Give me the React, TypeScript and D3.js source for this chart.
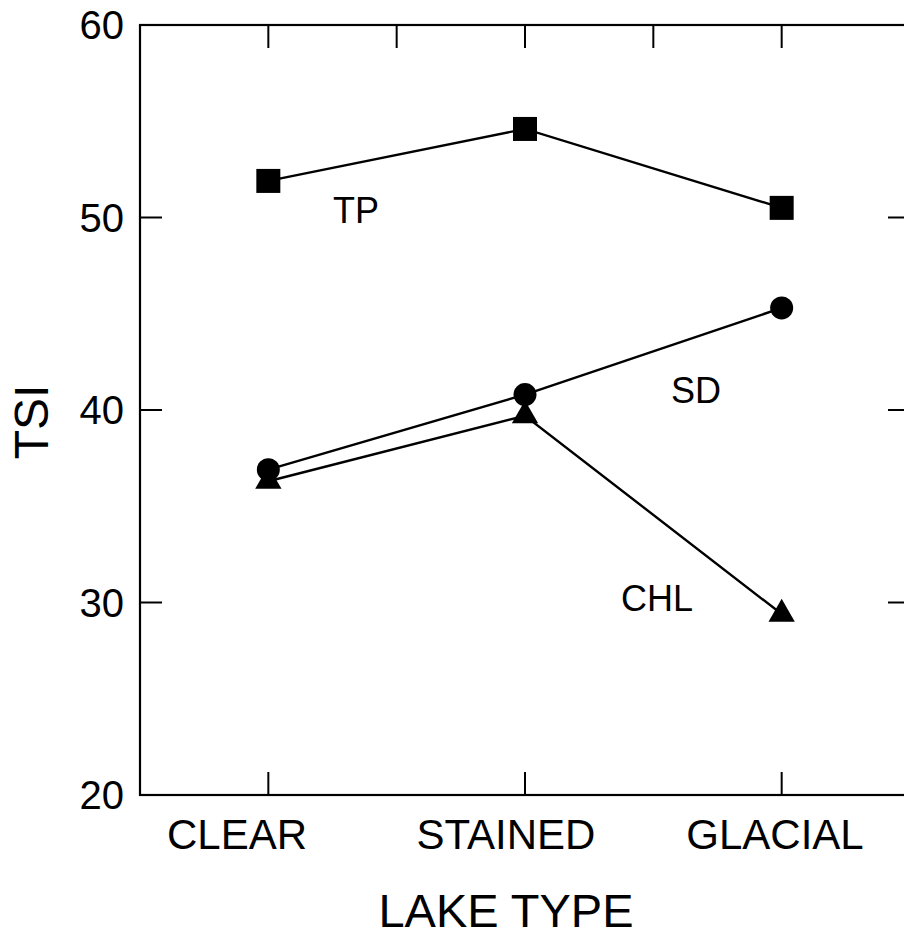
import React from "react";
import * as d3 from "d3";

// Lake types on the x axis
const lakeTypes = ["CLEAR", "STAINED", "GLACIAL"];

// TSI values
const tpValues = [51.9, 54.6, 50.5];
const sdValues = [36.9, 40.8, 45.3];
const chlValues = [36.3, 39.7, 29.4];

const yTicks = [20, 30, 40, 50, 60];

const W = 904;
const H = 936;
const left = 140;
const right = 910;
const top = 25;
const bottom = 795;
const font = "'Liberation Sans', Arial, Helvetica, sans-serif";

export default function App() {
	const x = d3.scalePoint<string>().domain(lakeTypes).range([left, right]).padding(0.5);
	const y = d3.scaleLinear().domain([20, 60]).range([bottom, top]);
	const step = x.step();
	// the category labels sit a little off their ticks in the original
	const labelX = d3.scalePoint<string>().domain(lakeTypes).range([237, 775]);

	const line = d3
		.line<number>()
		.x((d, i) => x(lakeTypes[i]) as number)
		.y(d => y(d));

	// top axis has ticks at each category and halfway between them
	const topTicks = d3.range(lakeTypes.length * 2 - 1).map(i => (x(lakeTypes[0]) as number) + (i * step) / 2);

	const inner = yTicks.filter(t => t !== 20 && t !== 60);

	const triangle = d3.symbol().type(d3.symbolTriangle).size(300)();

	return (
		<svg width={W} height={H} style={{ position: "absolute", left: 0, top: 0, background: "#fff" }}>
			{/* frame */}
			<rect x={left} y={top} width={right - left} height={bottom - top} fill="none" stroke="#000" strokeWidth={2.2} />

			{/* bottom ticks */}
			{lakeTypes.map(c => (
				<line key={"b" + c} x1={x(c)} x2={x(c)} y1={bottom} y2={bottom - 23} stroke="#000" strokeWidth={2} />
			))}
			{/* top ticks */}
			{topTicks.map((t, i) => (
				<line key={"t" + i} x1={t} x2={t} y1={top} y2={top + 23} stroke="#000" strokeWidth={2} />
			))}
			{/* left and right y ticks */}
			{inner.map(t => (
				<g key={"y" + t}>
					<line x1={left} x2={left + 22} y1={y(t)} y2={y(t)} stroke="#000" strokeWidth={2} />
					<line x1={right} x2={right - 22} y1={y(t)} y2={y(t)} stroke="#000" strokeWidth={2} />
				</g>
			))}

			{/* y tick labels */}
			{yTicks.map(t => (
				<text key={"yl" + t} x={124} y={y(t)} dy="0.36em" textAnchor="end" fontFamily={font} fontSize={40}>
					{t}
				</text>
			))}

			{/* category labels */}
			{lakeTypes.map(c => (
				<text key={"cl" + c} x={labelX(c)} y={849} textAnchor="middle" fontFamily={font} fontSize={42}>
					{c}
				</text>
			))}

			{/* axis titles */}
			<text x={506} y={927} textAnchor="middle" fontFamily={font} fontSize={47}>
				LAKE TYPE
			</text>
			<text transform="translate(48, 422) rotate(-90)" textAnchor="middle" fontFamily={font} fontSize={48}>
				TSI
			</text>

			{/* series lines */}
			{[tpValues, sdValues, chlValues].map((vals, i) => (
				<path key={"l" + i} d={line(vals) || ""} fill="none" stroke="#000" strokeWidth={2.4} />
			))}

			{/* TP squares */}
			{tpValues.map((v, i) => (
				<rect key={"s" + i} x={(x(lakeTypes[i]) as number) - 12} y={y(v) - 12} width={24} height={24} fill="#000" />
			))}
			{/* SD circles */}
			{sdValues.map((v, i) => (
				<circle key={"c" + i} cx={x(lakeTypes[i])} cy={y(v)} r={11.5} fill="#000" />
			))}
			{/* CHL triangles */}
			{chlValues.map((v, i) => (
				<path key={"tr" + i} d={triangle || ""} transform={`translate(${x(lakeTypes[i])}, ${y(v)})`} fill="#000" />
			))}

			{/* series labels */}
			<text x={333} y={223} fontFamily={font} fontSize={36}>TP</text>
			<text x={671} y={403} fontFamily={font} fontSize={36}>SD</text>
			<text x={621} y={611} fontFamily={font} fontSize={36}>CHL</text>
		</svg>
	);
}
